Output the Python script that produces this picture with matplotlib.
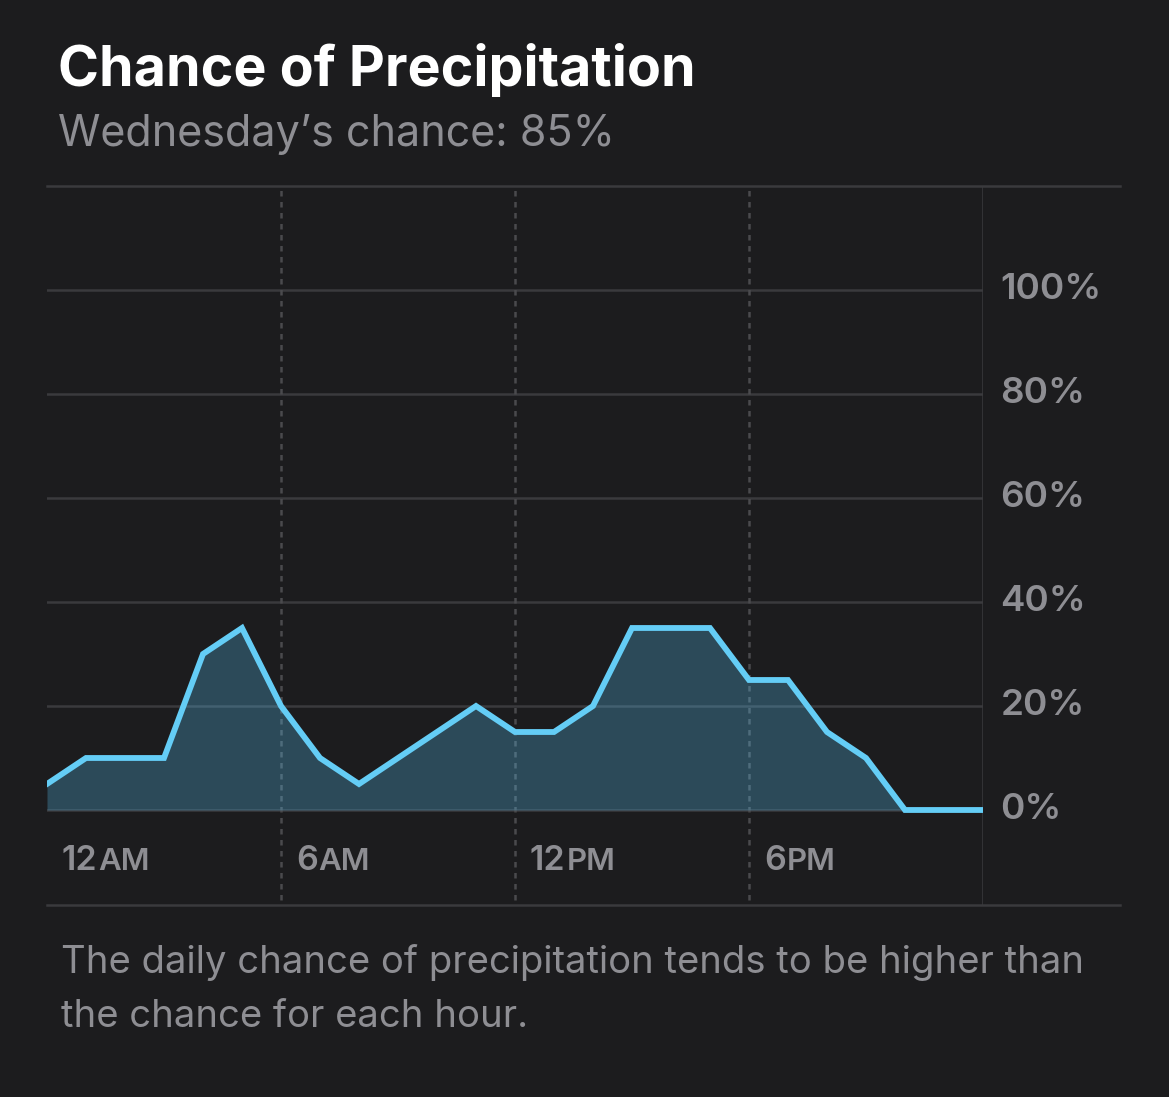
import numpy as np
import matplotlib.pyplot as plt

# hourly chance of precipitation (%), 12AM .. next 12AM
hours = list(range(25))
chance = [5, 10, 10, 10, 30, 35, 20, 10, 5, 10, 15, 20, 15, 15, 20, 35, 35, 35,
          25, 25, 15, 10, 0, 0, 0]

y_ticks = [0, 20, 40, 60, 80, 100]
y_labels = ['0%', '20%', '40%', '60%', '80%', '100%']
x_ticks = [0, 6, 12, 18]
x_nums = ['12', '6', '12', '6']
x_suffix = ['AM', 'AM', 'PM', 'PM']

title = 'Chance of Precipitation'
subtitle = 'Wednesday\u2019s chance: 85%'
footnote = ['The daily chance of precipitation tends to be higher than',
            'the chance for each hour.']

bg = '#1c1c1e'
grid_col = '#3a3a3d'
label_col = '#8e8e93'
line_col = '#64cdf6'

plt.rcParams['font.family'] = ['Inter', 'DejaVu Sans']

W, H = 1169, 1097
fig = plt.figure(figsize=(W / 100, H / 100), dpi=100, facecolor=bg)

# axes box in pixels: left 47, right 983, top 186, bottom 905
ax = fig.add_axes([47 / W, 1 - 905 / H, 936 / W, (905 - 186) / H])
ax.set_facecolor(bg)
ax.set_xlim(0, 24)
ax.set_ylim(-18.27, 120)
for s in ax.spines.values():
    s.set_visible(False)
ax.set_xticks([])
ax.set_yticks([])

# horizontal grid
for v in y_ticks:
    ax.axhline(v, color=grid_col, lw=1.8, zorder=1)
# top / bottom frame lines run past the right edge
ext = (1120 - 47) / 936
ax.axhline(120, xmin=0, xmax=ext, color=grid_col, lw=1.8, clip_on=False)
ax.axhline(-18.27, xmin=0, xmax=ext, color=grid_col, lw=1.8, clip_on=False)
ax.axvline(24, color=grid_col, lw=1.8, zorder=1)

# dotted hour separators
for t in x_ticks[1:]:
    ax.plot([t, t], [-17.3, 120], color='#4a4a4d', lw=1.8, ls=(0, (2.2, 2.2)), zorder=1)

ax.fill_between(hours, chance, 0, color='#5ac8fa', alpha=0.27, lw=0, zorder=2)
ax.plot(hours, chance, color=line_col, lw=4.2, solid_joinstyle='miter', zorder=3)

for v, lab in zip(y_ticks, y_labels):
    ax.text(24.45, v, lab, color=label_col, fontsize=26.5, fontweight='semibold',
            ha='left', va='center', clip_on=False)

# hour labels: number then smaller AM/PM
fig.canvas.draw()
renderer = fig.canvas.get_renderer()
for t, num, suf in zip(x_ticks, x_nums, x_suffix):
    txt = ax.text(t + 0.38, -11.6, num, color=label_col, fontsize=24.5,
                  fontweight='semibold', ha='left', va='baseline')
    bb = txt.get_window_extent(renderer)
    x_end = ax.transData.inverted().transform((bb.x1 + 1, 0))[0]
    ax.text(x_end, -11.6, suf, color=label_col, fontsize=22.5,
            fontweight='semibold', ha='left', va='baseline')

fig.text(58 / W, 1 - 86 / H, title, color='white', fontsize=40, fontweight='bold',
         ha='left', va='baseline')
fig.text(58 / W, 1 - 146 / H, subtitle, color=label_col, fontsize=31,
         ha='left', va='baseline')
fig.text(61 / W, 1 - 973 / H, footnote[0], color=label_col, fontsize=27.5,
         ha='left', va='baseline')
fig.text(61 / W, 1 - 1027 / H, footnote[1], color=label_col, fontsize=27.5,
         ha='left', va='baseline')

fig.savefig('out.png', dpi=100, facecolor=bg)
